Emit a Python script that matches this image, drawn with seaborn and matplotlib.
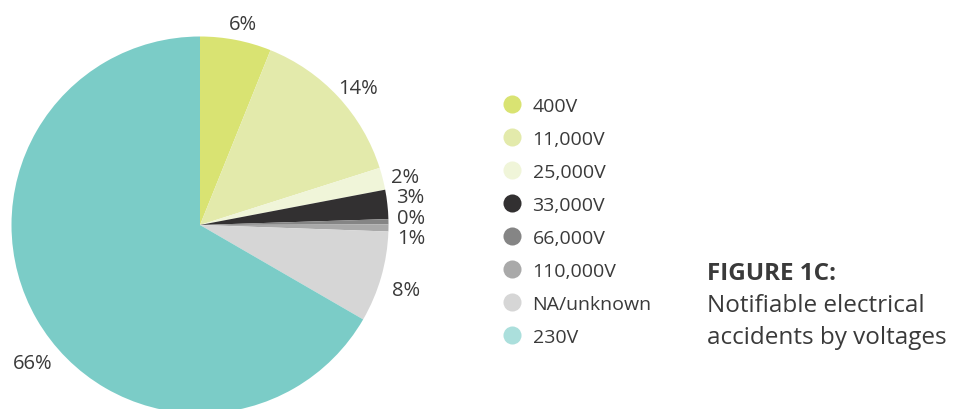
import matplotlib
matplotlib.use("Agg")
import matplotlib.pyplot as plt
from matplotlib.lines import Line2D
import seaborn as sns

# data
voltages = ['400V', '11,000V', '25,000V', '33,000V', '66,000V', '110,000V', 'NA/unknown', '230V']
shares = [6.1, 14.0, 1.9, 2.5, 0.45, 0.6, 7.8, 66.65]
pct_labels = ['6%', '14%', '2%', '3%', '0%', '1%', '8%', '66%']
colors = ['#d9e372', '#e3eaab', '#f0f5d9', '#323031', '#858585', '#a9a9a9', '#d6d6d6', '#7bccc7']
legend_colors = ['#d9e372', '#e3eaab', '#f0f5d9', '#323031', '#858585', '#a9a9a9', '#d6d6d6', '#abdfdc']

sns.set_theme(style='white')
plt.rcParams['font.family'] = ['Open Sans', 'DejaVu Sans']
text_col = '#3a3a3a'

fig = plt.figure(figsize=(9.55, 4.1), dpi=100)
ax = fig.add_axes([11.5 / 955, (410 - 226 - 188.5) / 410, 377 / 955, 377 / 410])

wedges, texts = ax.pie(shares, colors=sns.color_palette(colors), startangle=90, counterclock=False,
                       labels=pct_labels, labeldistance=1.12, radius=1,
                       wedgeprops=dict(linewidth=0),
                       textprops=dict(fontsize=14.5, color=text_col))
for t in texts:
    t.set_ha('center')
    t.set_va('center')
    x, y = t.get_position()
    t.set_position((x + 0.015, y - 0.035))
# the small slices crowd together, so stack their labels by hand
for t, y in zip(texts[2:6], [0.256, 0.146, 0.038, -0.069]):
    t.set_position((t.get_position()[0] - 0.015, y))
# 66% sits a little further round than the slice middle
texts[7].set_position((-0.89, -0.73))

ax.set_xlim(-1, 1)
ax.set_ylim(-1, 1)
ax.set_aspect('equal')

handles = [Line2D([], [], marker='o', linestyle='', markersize=13, markerfacecolor=c,
                  markeredgewidth=0) for c in legend_colors]
fig.legend(handles, voltages, loc='upper left', bbox_to_anchor=(494 / 955, 1 - 90 / 410),
           frameon=False, fontsize=14, labelspacing=0.77, handletextpad=0.58,
           handlelength=1.0, labelcolor=text_col, borderaxespad=0)

fig.text(707 / 955, 1 - 274 / 410, 'FIGURE 1C:', fontsize=17.5, fontweight='bold',
         color=text_col, va='center', ha='left')
fig.text(707 / 955, 1 - 306 / 410, 'Notifiable electrical', fontsize=17.5,
         color=text_col, va='center', ha='left')
fig.text(707 / 955, 1 - 338 / 410, 'accidents by voltages', fontsize=17.5,
         color=text_col, va='center', ha='left')

fig.savefig('out.png', dpi=100)
